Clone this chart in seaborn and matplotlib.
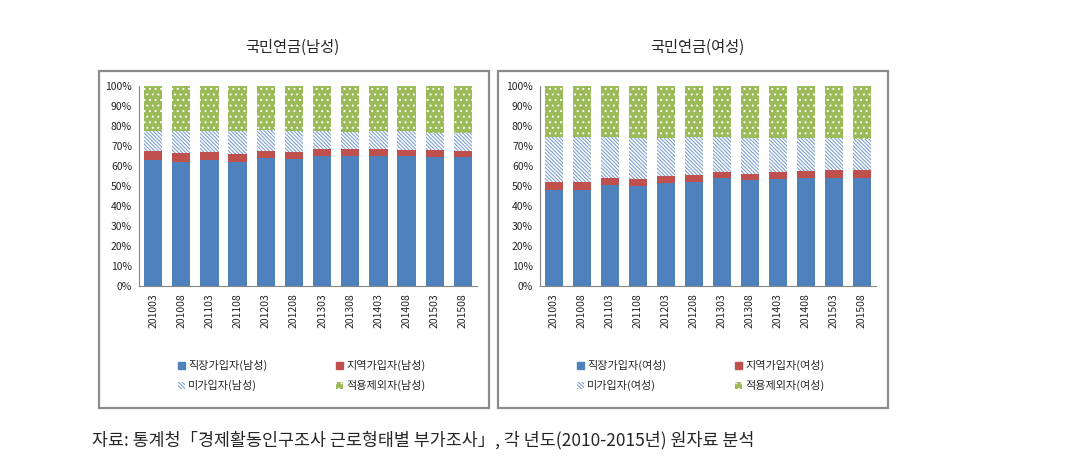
import numpy as np
import matplotlib
matplotlib.use('Agg')
import matplotlib.pyplot as plt
from matplotlib.patches import Patch, Rectangle
import seaborn as sns

# Survey periods (year + month)
periods = ['201003', '201008', '201103', '201108', '201203', '201208',
           '201303', '201308', '201403', '201408', '201503', '201508']

# Shares in percent (segments stack to 100)
male_workplace = [63.1, 62.1, 63.1, 62.1, 64.1, 63.6, 64.8, 64.8, 64.8, 64.8, 64.3, 64.3]
male_regional = [4.3, 4.2, 3.8, 3.7, 3.3, 3.3, 3.6, 3.8, 3.6, 3.3, 3.8, 3.1]
male_uninsured = [10.1, 11.2, 10.6, 11.7, 10.6, 10.6, 9.1, 8.2, 9.1, 9.4, 8.2, 8.9]
male_exempt = [22.5, 22.5, 22.5, 22.5, 22.0, 22.5, 22.5, 23.2, 22.5, 22.5, 23.7, 23.7]

female_workplace = [48.2, 48.2, 50.4, 49.9, 51.4, 52.1, 53.8, 52.8, 53.3, 53.8, 53.8, 53.8]
female_regional = [3.9, 3.9, 3.4, 3.4, 3.5, 3.3, 3.1, 3.1, 3.6, 3.8, 4.3, 4.3]
female_uninsured = [22.4, 22.4, 20.7, 20.7, 19.1, 19.1, 17.6, 18.1, 17.1, 16.4, 15.9, 15.4]
female_exempt = [25.5, 25.5, 25.5, 26.0, 26.0, 25.5, 25.5, 26.0, 26.0, 26.0, 26.0, 26.5]

male_labels = ['직장가입자(남성)', '지역가입자(남성)', '미가입자(남성)', '적용제외자(남성)']
female_labels = ['직장가입자(여성)', '지역가입자(여성)', '미가입자(여성)', '적용제외자(여성)']

BLUE = '#4F81BD'
RED = '#C0504D'
GREEN = '#9BBB59'
HATCH_BLUE = '#6F95CC'
GRID = '#868686'
LINES = '\\' * 9
DOTS = '...'

sns.set_style("white")
plt.rcParams['font.family'] = ['Noto Sans CJK KR', 'DejaVu Sans']
plt.rcParams['hatch.linewidth'] = 0.7


def draw_panel(ax, segments):
    workplace, regional, uninsured, exempt = [np.array(s) for s in segments]
    layers = [
        (workplace + regional + uninsured + exempt, GREEN, 'white', DOTS),
        (workplace + regional + uninsured, 'white', HATCH_BLUE, LINES),
        (workplace + regional, RED, None, None),
        (workplace, BLUE, None, None),
    ]
    for values, face, edge, hatch in layers:
        n0 = len(ax.patches)
        sns.barplot(x=periods, y=values, color=face, ax=ax, width=0.65,
                    saturation=1, errorbar=None)
        for p in ax.patches[n0:]:
            p.set_facecolor(face)
            p.set_linewidth(0)
            if hatch:
                p.set_edgecolor(edge)
                p.set_hatch(hatch)

    ax.set_ylim(0, 100)
    ax.set_xlim(-0.5, len(periods) - 0.5)
    ax.set_yticks(range(0, 101, 10))
    ax.set_yticklabels([f'{v}%' for v in range(0, 101, 10)], fontsize=7.5)
    ax.set_xticks(np.arange(-0.5, len(periods), 1))
    ax.set_xticklabels([])
    ax.set_xticks(range(len(periods)), minor=True)
    ax.set_xticklabels(periods, minor=True, rotation=90, fontsize=7.5)
    ax.tick_params(axis='x', which='major', length=4, color=GRID, direction='out')
    ax.tick_params(axis='x', which='minor', length=0, pad=5)
    ax.tick_params(axis='y', length=3, color=GRID, direction='out', pad=2)
    ax.set_xlabel('')
    ax.set_ylabel('')
    for s in ['top', 'right']:
        ax.spines[s].set_visible(False)
    for s in ['left', 'bottom']:
        ax.spines[s].set_color(GRID)
        ax.spines[s].set_linewidth(0.8)


def legend_handles(labels):
    return [
        Patch(facecolor=BLUE, edgecolor=BLUE, label=labels[0]),
        Patch(facecolor='white', edgecolor=HATCH_BLUE, hatch=LINES, lw=0, label=labels[2]),
        Patch(facecolor=RED, edgecolor=RED, label=labels[1]),
        Patch(facecolor=GREEN, edgecolor='white', hatch=DOTS, lw=0, label=labels[3]),
    ]


fig = plt.figure(figsize=(10.69, 4.69), dpi=100)

# Panel frames
for x0, x1 in [(99, 489), (498, 888)]:
    fig.patches.append(Rectangle((x0 / 1069, 1 - 408 / 469), (x1 - x0) / 1069, (408 - 71) / 469,
                                 transform=fig.transFigure, facecolor='none',
                                 edgecolor='#8c8c8c', linewidth=1.6))

ax1 = fig.add_axes([139 / 1069, 1 - 286 / 469, 338 / 1069, 200 / 469])
ax2 = fig.add_axes([540 / 1069, 1 - 286 / 469, 336 / 1069, 200 / 469])

draw_panel(ax1, [male_workplace, male_regional, male_uninsured, male_exempt])
draw_panel(ax2, [female_workplace, female_regional, female_uninsured, female_exempt])

fig.text(292 / 1069, 1 - 47 / 469, '국민연금(남성)', ha='center', va='center', fontsize=11)
fig.text(697 / 1069, 1 - 47 / 469, '국민연금(여성)', ha='center', va='center', fontsize=11)

for handles_labels, x in [(male_labels, 168), (female_labels, 567)]:
    fig.legend(handles=legend_handles(handles_labels), ncol=2, frameon=False,
               loc='upper left', bbox_to_anchor=(x / 1069, 1 - 350 / 469),
               fontsize=8, handlelength=0.6, handleheight=0.6, handletextpad=0.3,
               columnspacing=6.2, labelspacing=0.8)

fig.text(92 / 1069, 1 - 440 / 469,
         '자료: 통계청「경제활동인구조사 근로형태별 부가조사」, 각 년도(2010-2015년) 원자료 분석',
         ha='left', va='center', fontsize=12.5)

fig.savefig('out.png', dpi=100)
